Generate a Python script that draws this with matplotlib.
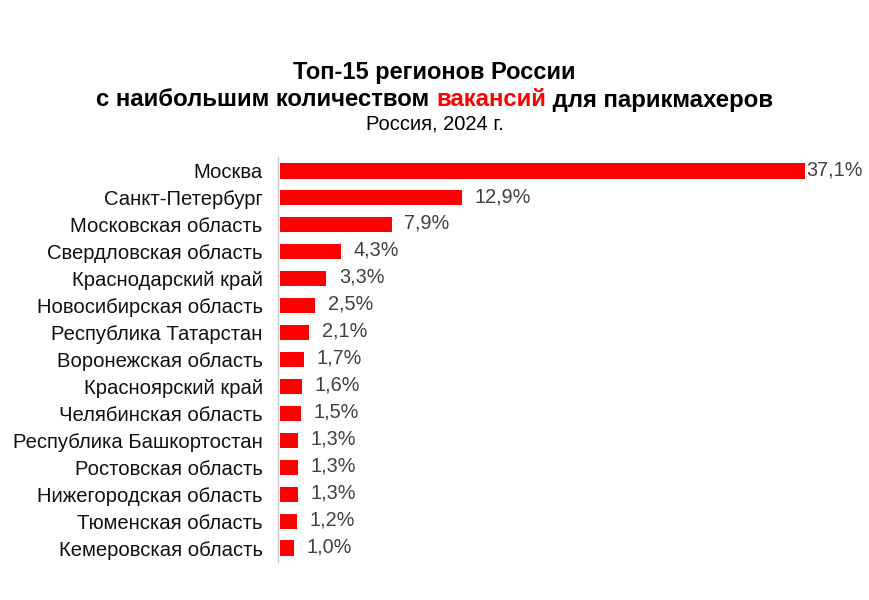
import matplotlib.pyplot as plt

plt.rcParams['font.family'] = ['Liberation Sans', 'DejaVu Sans']

regions = ['Москва', 'Санкт-Петербург', 'Московская область', 'Свердловская область',
           'Краснодарский край', 'Новосибирская область', 'Республика Татарстан',
           'Воронежская область', 'Красноярский край', 'Челябинская область',
           'Республика Башкортостан', 'Ростовская область', 'Нижегородская область',
           'Тюменская область', 'Кемеровская область']
shares = [37.1, 12.9, 7.9, 4.3, 3.3, 2.5, 2.1, 1.7, 1.6, 1.5, 1.3, 1.3, 1.3, 1.2, 1.0]

fig = plt.figure(figsize=(8.69, 6.0), dpi=100)
ax = fig.add_axes([278 / 869, 1 - 561.5 / 600, 560 / 869, 404 / 600])

y = list(range(len(regions)))
ax.barh(y, shares, height=0.56, color='#ff0000', left=0.12)
ax.set_ylim(len(regions) - 0.5, -0.5)
ax.set_xlim(0, 37.22 * 560 / 527)
ax.set_yticks(y)
ax.set_yticklabels(regions, fontsize=14.6, color='#111111')
ax.tick_params(axis='y', length=0, pad=11)
ax.set_xticks([])

for s in ['top', 'right', 'bottom']:
    ax.spines[s].set_visible(False)
ax.spines['left'].set_color('#c8c8c8')
ax.spines['left'].set_linewidth(1.0)

for i, v in enumerate(shares):
    gap = 1 if v == max(shares) else 9
    ax.annotate(f'{v:.1f}%'.replace('.', ','), (v + 0.12, i), xytext=(gap, 1),
                textcoords='offset points', va='center', ha='left',
                fontsize=14.3, color='#404040')

# title: three lines, second one with a red word
fig.text(0.5, 1 - 72 / 600, 'Топ-15 регионов России', ha='center', va='center',
         fontsize=17, fontweight='bold', color='black')
fig.text(0.5, 1 - 124 / 600, 'Россия, 2024 г.', ha='center', va='center',
         fontsize=14.5, color='black')

parts = [('с наибольшим количеством ', 'black'), ('вакансий', '#ff0000'),
         (' для парикмахеров', 'black')]
renderer = fig.canvas.get_renderer()
texts = []
for txt, col in parts:
    t = fig.text(0, 1 - 100 / 600, txt, ha='left', va='center',
                 fontsize=17.3, fontweight='bold', color=col)
    texts.append(t)
widths = [t.get_window_extent(renderer).width for t in texts]
x0 = (869 - sum(widths)) / 2
for t, w in zip(texts, widths):
    t.set_x(x0 / 869)
    x0 += w

fig.savefig('out.png', dpi=100)
